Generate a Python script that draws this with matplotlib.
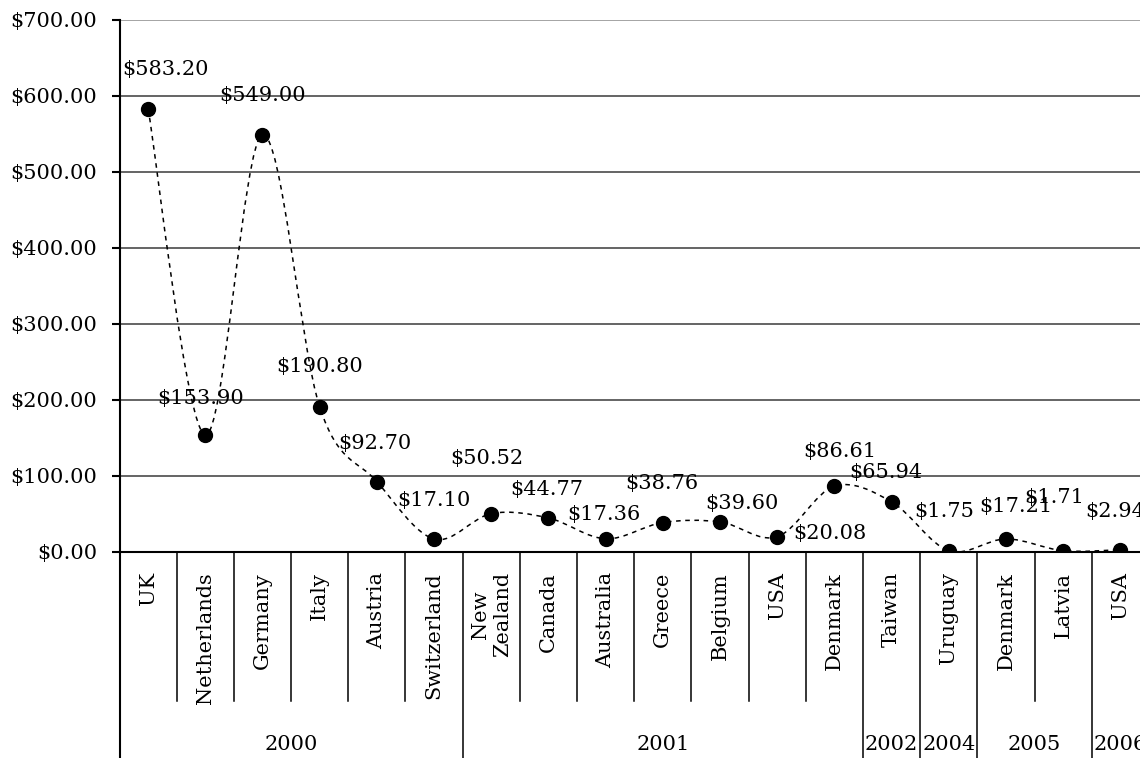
import numpy as np
import matplotlib
matplotlib.use("Agg")
import matplotlib.pyplot as plt
from matplotlib.path import Path
from matplotlib.patches import PathPatch

# categories (country within year) and the amounts
countries = ['UK', 'Netherlands', 'Germany', 'Italy', 'Austria', 'Switzerland',
             'New\nZealand', 'Canada', 'Australia', 'Greece', 'Belgium', 'USA', 'Denmark',
             'Taiwan', 'Uruguay', 'Denmark', 'Latvia', 'USA']
years = ['2000', '2001', '2002', '2004', '2005', '2006']
year_counts = [6, 7, 1, 1, 2, 1]
values = [583.20, 153.90, 549.00, 190.80, 92.70, 17.10, 50.52, 44.77, 17.36,
          38.76, 39.60, 20.08, 86.61, 65.94, 1.75, 17.21, 1.71, 2.94]
yticks = [0, 100, 200, 300, 400, 500, 600, 700]

# where each value label sits relative to its marker (pixels)
label_offsets = [(17, 39), (-5, 37), (0, 39), (0, 40), (-2, 38), (0, 39),
                 (-4, 55), (-2, 28), (-2, 24), (-1, 39), (22, 18), (53, 3),
                 (5, 35), (-6, 29), (-5, 39), (10, 32), (-9, 53), (-5, 38)]

plt.rcParams['font.family'] = ['DejaVu Serif']
plt.rcParams['font.size'] = 15


def smooth_path(xs, ys):
    # catmull-rom style bezier through every point, like a smoothed line chart
    pts = np.column_stack([xs, ys]).astype(float)
    verts = [pts[0]]
    codes = [Path.MOVETO]
    last = len(pts) - 1
    for i in range(last):
        p0 = pts[max(i - 1, 0)]
        p1 = pts[i]
        p2 = pts[i + 1]
        p3 = pts[min(i + 2, last)]
        verts += [p1 + (p2 - p0) / 6, p2 - (p3 - p1) / 6, p2]
        codes += [Path.CURVE4] * 3
    return Path(verts, codes)


fig = plt.figure(figsize=(11.4, 7.58), dpi=100)
ax = fig.add_axes([119.5 / 1140, 206 / 758, 1029.5 / 1140, 532 / 758])

n = len(values)
x = np.arange(n)

ax.set_xlim(-0.5, n - 0.5)
ax.set_ylim(0, 700)

# horizontal gridlines
for v in yticks[1:-1]:
    ax.axhline(v, color='#3a3a3a', lw=1.1, zorder=1)
ax.axhline(700, color='#8c8c8c', lw=1.1, zorder=1)

ax.add_patch(PathPatch(smooth_path(x, values), fill=False, ec='black',
                       lw=1.1, ls=(0, (3, 3)), zorder=3))
ax.plot(x, values, 'o', color='black', ms=10, zorder=4)

for i, v in enumerate(values):
    dx, dy = label_offsets[i]
    ax.annotate('$%.2f' % v, (i, v), xytext=(dx, dy), textcoords='offset pixels',
                ha='center', va='center', zorder=5, annotation_clip=False)

# y axis
for s in ['top', 'right']:
    ax.spines[s].set_visible(False)
ax.spines['left'].set_visible(False)
ax.spines['bottom'].set_linewidth(1.5)
ax.set_yticks(yticks)
ax.set_yticklabels(['$%.2f' % t for t in yticks])
ax.tick_params(axis='y', direction='out', length=6, width=1.5, pad=10)
ax.set_xticks([])

trans = ax.get_xaxis_transform()
ax.plot([-0.5, -0.5], [1, -0.40], transform=trans, color='black', lw=1.5,
        clip_on=False, zorder=6)

# two level category axis
bounds = np.cumsum(year_counts)
for i in range(1, n):
    if i in bounds:
        y0 = -0.40
    else:
        y0 = -0.280
    ax.plot([i - 0.5, i - 0.5], [0, y0], transform=trans, color='black',
            lw=1.1, clip_on=False)

for i, name in enumerate(countries):
    ax.annotate(name, (i, 0), xycoords=trans, xytext=(0, -20),
                textcoords='offset pixels', rotation=90, ha='center', va='top',
                multialignment='center', annotation_clip=False)

start = 0
for yr, cnt in zip(years, year_counts):
    mid = start + (cnt - 1) / 2
    ax.annotate(yr, (mid, 0), xycoords=trans, xytext=(0, -193),
                textcoords='offset pixels', ha='center', va='center',
                annotation_clip=False)
    start += cnt

fig.savefig('out.png', dpi=100)
